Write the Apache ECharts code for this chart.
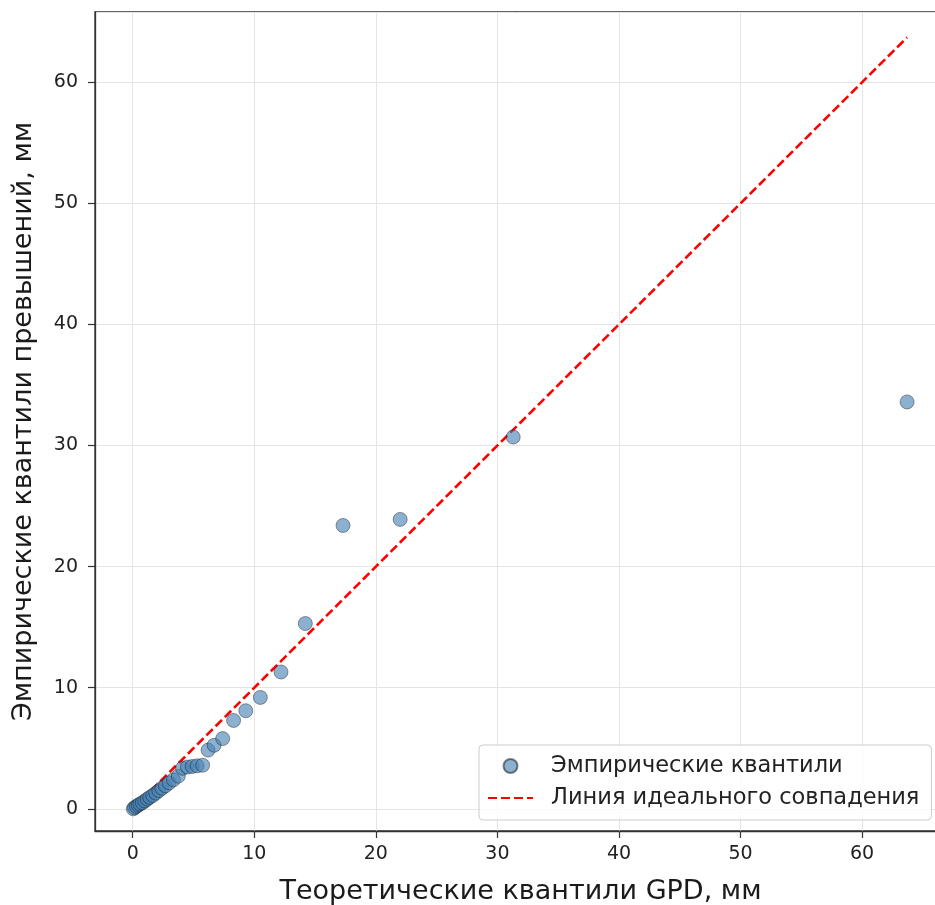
<!DOCTYPE html>
<html>
<head>
<meta charset="utf-8">
<title>QQ-plot GPD</title>
<script src="https://cdn.jsdelivr.net/npm/echarts@6/dist/echarts.min.js"></script>
<style>
  html, body { margin: 0; padding: 0; background: #fff; }
  #chart { width: 935px; height: 905px; }
</style>
</head>
<body>
<div id="chart"></div>
<script>
// теоретические квантили GPD (ось X), мм
var theoretical = [0.05, 0.15, 0.3, 0.45, 0.6, 0.8, 1.0, 1.2, 1.4, 1.65, 1.9, 2.15, 2.4, 2.7,
  3.0, 3.35, 3.75, 4.1, 4.5, 4.9, 5.3, 5.75, 6.2, 6.7, 7.4, 8.3, 9.3, 10.5, 12.2, 14.2,
  17.3, 22.0, 31.3, 63.7];
// эмпирические квантили превышений (ось Y), мм
var empirical = [0.0, 0.1, 0.2, 0.3, 0.4, 0.5, 0.65, 0.8, 0.95, 1.1, 1.3, 1.5, 1.7, 1.9,
  2.15, 2.4, 2.7, 3.35, 3.45, 3.5, 3.55, 3.6, 4.85, 5.25, 5.8, 7.3, 8.1, 9.2, 11.3, 15.3,
  23.4, 23.9, 30.7, 33.6];

var xTitle = 'Теоретические квантили GPD, мм';
var yTitle = 'Эмпирические квантили превышений, мм';
var scatterName = 'Эмпирические квантили';
var lineName = 'Линия идеального совпадения';

var chart = echarts.init(document.getElementById('chart'));

var points = [];
for (var i = 0; i < theoretical.length; i++) {
  points.push([theoretical[i], empirical[i]]);
}
// линия y = x от минимума до максимума всех значений
var lo = Math.min(Math.min.apply(null, theoretical), Math.min.apply(null, empirical));
var hi = Math.max(Math.max.apply(null, theoretical), Math.max.apply(null, empirical));
var ideal = [[lo, lo], [hi, hi]];

var font = 'DejaVu Sans';

var option = {
  animation: false,
  backgroundColor: '#fff',
  grid: {
    left: 95,
    top: 12,
    width: 851,
    height: 819,
    outerBoundsMode: 'none',
    containLabel: false,
    show: true,
    borderColor: '#333',
    borderWidth: 1.3,
    backgroundColor: 'transparent'
  },
  xAxis: {
    type: 'value',
    min: -3.1,
    max: 66.9,
    splitNumber: 7,
    minInterval: 10,
    maxInterval: 10,
    name: xTitle,
    nameLocation: 'middle',
    nameGap: 47,
    nameTextStyle: { fontFamily: font, fontSize: 27, color: '#1a1a1a' },
    axisLine: { show: true, onZero: false, lineStyle: { color: '#333', width: 1.3 } },
    axisTick: { show: true, length: 7, lineStyle: { color: '#333', width: 1.2 } },
    axisLabel: { fontFamily: font, fontSize: 19, color: '#222', margin: 14, showMinLabel: false, showMaxLabel: false },
    splitLine: { show: true, lineStyle: { color: '#e4e4e4', width: 1 } }
  },
  yAxis: {
    type: 'value',
    min: -1.83,
    max: 65.8,
    splitNumber: 7,
    minInterval: 10,
    maxInterval: 10,
    name: yTitle,
    nameLocation: 'middle',
    nameGap: 58,
    nameTextStyle: { fontFamily: font, fontSize: 27, color: '#1a1a1a' },
    axisLine: { show: true, onZero: false, lineStyle: { color: '#333', width: 1.3 } },
    axisTick: { show: true, length: 7, lineStyle: { color: '#333', width: 1.2 } },
    axisLabel: { fontFamily: font, fontSize: 19, color: '#222', margin: 17, showMinLabel: false, showMaxLabel: false },
    splitLine: { show: true, lineStyle: { color: '#e4e4e4', width: 1 } }
  },
  legend: {
    orient: 'vertical',
    left: 479,
    top: 745,
    padding: [8, 12, 9, 8],
    itemGap: 6,
    itemWidth: 45,
    itemHeight: 14,
    borderColor: '#cccccc',
    borderWidth: 1,
    borderRadius: 4,
    backgroundColor: 'rgba(255,255,255,0.8)',
    textStyle: { fontFamily: font, fontSize: 22.5, color: '#222', lineHeight: 26, padding: [0, 0, 0, 13] },
    data: [
      { name: scatterName, icon: 'circle' },
      { name: lineName, icon: 'inherit', itemStyle: { opacity: 0 } }
    ]
  },
  series: [
    {
      name: lineName,
      type: 'line',
      data: ideal,
      symbol: 'none',
      z: 3,
      lineStyle: { color: '#ff0000', width: 2.6, type: [9, 4] },
      itemStyle: { color: '#ff0000' }
    },
    {
      name: scatterName,
      type: 'scatter',
      data: points,
      symbol: 'circle',
      symbolSize: 14,
      z: 4,
      itemStyle: {
        color: 'rgba(70,130,180,0.78)',
        borderColor: 'rgba(0,0,0,0.6)',
        borderWidth: 0.8
      }
    }
  ]
};

chart.setOption(option);
</script>
</body>
</html>
